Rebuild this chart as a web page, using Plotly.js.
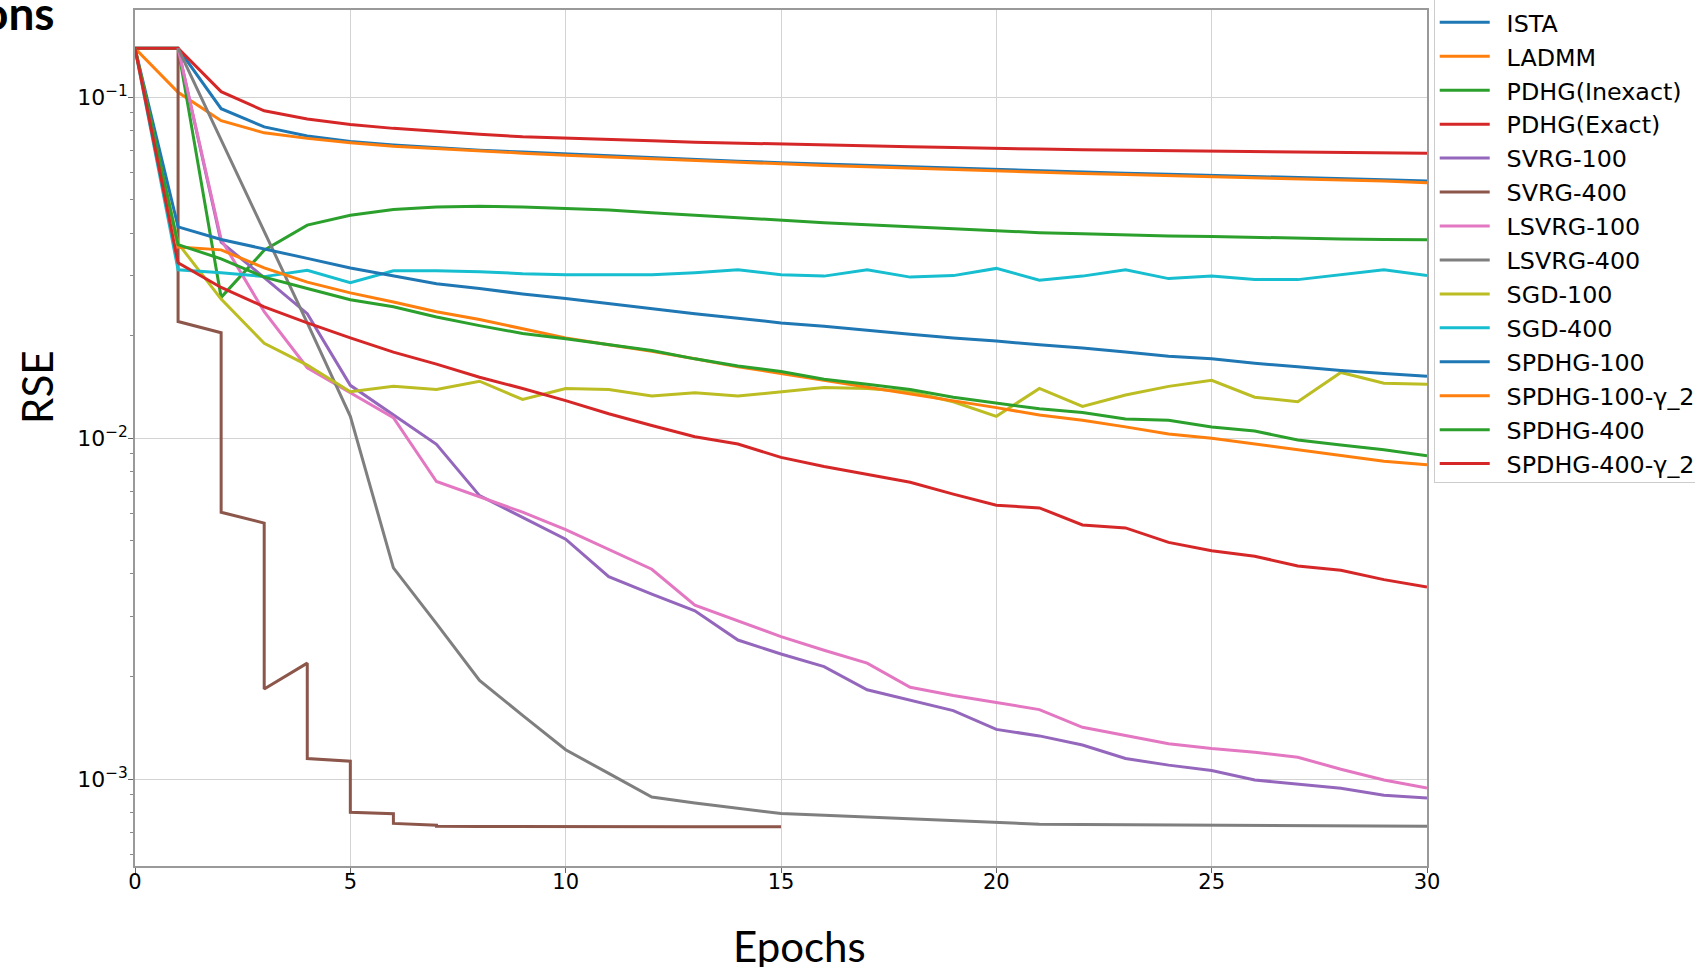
<!DOCTYPE html>
<html>
<head>
<meta charset="utf-8">
<script src="https://cdn.plot.ly/plotly-3.0.1.min.js"></script>
<style>html,body{margin:0;padding:0;background:#fff;}#chart{width:1695px;height:967px;}</style>
</head>
<body>
<div id="chart"></div>
<script>
// ---- data ----
const epochs = [0,1,2,3,4,5,6,7,8,9,10,11,12,13,14,15,16,17,18,19,20,21,22,23,24,25,26,27,28,29,30];
const epochsFrom1 = [1,2,3,4,5,6,7,8,9,10,11,12,13,14,15,16,17,18,19,20,21,22,23,24,25,26,27,28,29,30];
const svrg400Epochs = [1,1,2,2,3,3,4,4,5,5,6,6,7,7,8,9,10,11,12,13,14,15];

const seriesNames = ["ISTA","LADMM","PDHG(Inexact)","PDHG(Exact)","SVRG-100","SVRG-400","LSVRG-100","LSVRG-400","SGD-100","SGD-400","SPDHG-100","SPDHG-100-γ_2","SPDHG-400","SPDHG-400-γ_2"];
const seriesColors = ["#1f77b4","#ff7f0e","#2ca02c","#d62728","#9467bd","#8c564b","#e377c2","#7f7f7f","#bcbd22","#17becf","#1f77b4","#ff7f0e","#2ca02c","#d62728"];

const ISTA = [0.1393,0.1393,0.0926,0.0819,0.0770,0.0742,0.0725,0.0712,0.0700,0.0691,0.0682,0.0674,0.0666,0.0657,0.0650,0.0643,0.0637,0.0631,0.0626,0.0620,0.0615,0.0608,0.0603,0.0599,0.0595,0.0591,0.0586,0.0582,0.0577,0.0573,0.0568];
const LADMM = [0.1393,0.1035,0.0854,0.0787,0.0758,0.0736,0.0719,0.0707,0.0696,0.0686,0.0676,0.0668,0.0660,0.0651,0.0644,0.0637,0.0631,0.0626,0.0620,0.0615,0.0609,0.0602,0.0598,0.0594,0.0590,0.0586,0.0581,0.0577,0.0572,0.0568,0.0562];
const PDHG_Inexact = [0.1393,0.1393,0.0259,0.0356,0.0422,0.0451,0.0469,0.0477,0.0479,0.0477,0.0472,0.0467,0.0459,0.0451,0.0444,0.0436,0.0429,0.0423,0.0417,0.0412,0.0407,0.0401,0.0398,0.0394,0.0392,0.0391,0.0388,0.0386,0.0384,0.0383,0.0382];
const PDHG_Exact = [0.1393,0.1393,0.1039,0.0913,0.0864,0.0833,0.0811,0.0793,0.0779,0.0766,0.0758,0.0751,0.0746,0.0739,0.0734,0.0729,0.0724,0.0721,0.0716,0.0713,0.0708,0.0705,0.0702,0.0700,0.0697,0.0696,0.0693,0.0691,0.0689,0.0686,0.0685];
const SVRG_100 = [0.1393,0.0376,0.0296,0.0232,0.0143,0.0117,0.00960,0.00679,0.00587,0.00506,0.00393,0.00349,0.00312,0.00256,0.00233,0.00214,0.00183,0.00171,0.00159,0.00140,0.00134,0.00126,0.00115,0.00110,0.00106,0.000995,0.000966,0.000941,0.000898,0.000881];
const SVRG_400 = [0.1393,0.0220,0.0204,0.00607,0.00564,0.00184,0.00219,0.00115,0.00113,0.000800,0.000792,0.000742,0.000733,0.000728,0.000727,0.000726,0.000726,0.000725,0.000725,0.000725,0.000725,0.000725];
const LSVRG_100 = [0.1393,0.0383,0.0235,0.0161,0.0136,0.0115,0.00747,0.00672,0.00607,0.00540,0.00472,0.00413,0.00324,0.00292,0.00262,0.00239,0.00219,0.00186,0.00176,0.00168,0.00160,0.00142,0.00134,0.00127,0.00123,0.00120,0.00116,0.00107,0.000995,0.000943];
const LSVRG_400 = [0.1393,0.0750,0.0408,0.0218,0.0116,0.00417,0.00286,0.00195,0.00154,0.00122,0.00104,0.000887,0.000852,0.000820,0.000793,0.000784,0.000775,0.000766,0.000758,0.000748,0.000738,0.000736,0.000735,0.000734,0.000733,0.000732,0.000731,0.000730,0.000729,0.000728];
const SGD_100 = [0.1393,0.0373,0.0256,0.0190,0.0164,0.0137,0.0142,0.0139,0.0147,0.0130,0.0140,0.0139,0.0133,0.0136,0.0133,0.0137,0.0141,0.0140,0.0137,0.0128,0.0116,0.0140,0.0124,0.0134,0.0142,0.0148,0.0132,0.0128,0.0156,0.0145,0.0144];
const SGD_400 = [0.1393,0.0312,0.0306,0.0298,0.0311,0.0286,0.0310,0.0310,0.0308,0.0304,0.0302,0.0302,0.0302,0.0306,0.0312,0.0302,0.0299,0.0312,0.0297,0.0300,0.0315,0.0291,0.0299,0.0312,0.0294,0.0299,0.0292,0.0292,0.0302,0.0312,0.0300];
const SPDHG_100 = [0.1393,0.0417,0.0383,0.0360,0.0337,0.0316,0.0299,0.0284,0.0275,0.0265,0.0257,0.0248,0.0240,0.0232,0.0225,0.0218,0.0213,0.0207,0.0202,0.0197,0.0193,0.0188,0.0184,0.0179,0.0174,0.0171,0.0166,0.0162,0.0158,0.0155,0.0152];
const SPDHG_100_g2 = [0.1393,0.0364,0.0357,0.0316,0.0287,0.0267,0.0251,0.0235,0.0223,0.0210,0.0197,0.0188,0.0180,0.0171,0.0162,0.0155,0.0148,0.0141,0.0135,0.0129,0.0123,0.0117,0.0113,0.0108,0.0103,0.0100,0.00962,0.00924,0.00889,0.00856,0.00837];
const SPDHG_400 = [0.1393,0.0370,0.0336,0.0297,0.0275,0.0255,0.0243,0.0227,0.0214,0.0203,0.0196,0.0188,0.0181,0.0171,0.0163,0.0157,0.0149,0.0144,0.0139,0.0132,0.0127,0.0122,0.0119,0.0114,0.0113,0.0108,0.0105,0.00989,0.00956,0.00926,0.00889];
const SPDHG_400_g2 = [0.1393,0.0327,0.0277,0.0243,0.0218,0.0197,0.0179,0.0165,0.0151,0.0140,0.0129,0.0118,0.0109,0.0101,0.00962,0.00879,0.00826,0.00782,0.00743,0.00686,0.00636,0.00625,0.00557,0.00546,0.00495,0.00468,0.00451,0.00422,0.00410,0.00385,0.00366];

const xTickVals = [0,5,10,15,20,25,30];
const yTickVals = [0.001,0.01,0.1];
const yTickText = ["10<sup>−3</sup>","10<sup>−2</sup>","10<sup>−1</sup>"];
const yMinorVals = [0.0006,0.0007,0.0008,0.0009,0.002,0.003,0.004,0.005,0.006,0.007,0.008,0.009,0.02,0.03,0.04,0.05,0.06,0.07,0.08,0.09];

const xAxisLabel = "Epochs";
const yAxisLabel = "RSE";
const cornerText = "ons";

// ---- traces ----
const seriesX = [epochs,epochs,epochs,epochs,epochsFrom1,svrg400Epochs,epochsFrom1,epochsFrom1,epochs,epochs,epochs,epochs,epochs,epochs];
const seriesY = [ISTA,LADMM,PDHG_Inexact,PDHG_Exact,SVRG_100,SVRG_400,LSVRG_100,LSVRG_400,SGD_100,SGD_400,SPDHG_100,SPDHG_100_g2,SPDHG_400,SPDHG_400_g2];

const traces = seriesNames.map((name, i) => ({
  type: 'scatter',
  mode: 'lines',
  name: '\u2002' + name,
  x: seriesX[i],
  y: seriesY[i],
  line: {color: seriesColors[i], width: 3},
  hoverinfo: 'x+y+name'
}));

const layout = {
  width: 1695,
  height: 967,
  margin: {l: 135, r: 268, t: 10, b: 101, pad: 0, autoexpand: false},
  paper_bgcolor: '#ffffff',
  plot_bgcolor: '#ffffff',
  showlegend: true,
  legend: {
    x: 1.0052, y: 1.0124, xanchor: 'left', yanchor: 'top',
    font: {family: 'DejaVu Sans', size: 23.8, color: '#000'},
    bordercolor: '#cccccc', borderwidth: 1, bgcolor: '#ffffff',
    itemwidth: 50
  },
  xaxis: {
    range: [0, 30],
    tickmode: 'array', tickvals: xTickVals,
    showgrid: true, gridcolor: '#d3d3d3', gridwidth: 1.2,
    showline: true, mirror: true, linecolor: '#999999', linewidth: 1.5,
    ticks: 'outside', ticklen: 5, tickcolor: '#666', tickwidth: 1,
    ticklabelstandoff: -9,
    tickfont: {family: 'DejaVu Sans', size: 21, color: '#000'},
    zeroline: false, automargin: false
  },
  yaxis: {
    type: 'log',
    range: [-3.2545, -0.7438],
    tickmode: 'array', tickvals: yTickVals, ticktext: yTickText,
    showgrid: true, gridcolor: '#d3d3d3', gridwidth: 1.2,
    showline: true, mirror: true, linecolor: '#999999', linewidth: 1.5,
    ticks: 'outside', ticklen: 5, tickcolor: '#666', tickwidth: 1,
    ticklabelstandoff: -4,
    tickfont: {family: 'DejaVu Sans', size: 22, color: '#000'},
    minor: {tickmode: 'array', tickvals: yMinorVals, ticks: 'outside', ticklen: 3, tickcolor: '#888', showgrid: false},
    zeroline: false, automargin: false
  },
  annotations: [
    {text: xAxisLabel, xref: 'paper', yref: 'paper', x: 0.5147, y: -0.093, xanchor: 'center', yanchor: 'middle', showarrow: false,
     font: {family: 'Lato', size: 42, color: '#000'}},
    {text: yAxisLabel, xref: 'paper', yref: 'paper', x: -0.0759, y: 0.5596, xanchor: 'center', yanchor: 'middle', textangle: -90, showarrow: false,
     font: {family: 'Lato', size: 42, color: '#000'}},
    {text: '<b>' + cornerText + '</b>', xref: 'paper', yref: 'paper', x: -0.0604, y: 0.997, xanchor: 'right', yanchor: 'middle', showarrow: false,
     font: {family: 'Lato', size: 46, color: '#000'}}
  ]
};

Plotly.newPlot('chart', traces, layout, {displayModeBar: false, responsive: false});
</script>
</body>
</html>
